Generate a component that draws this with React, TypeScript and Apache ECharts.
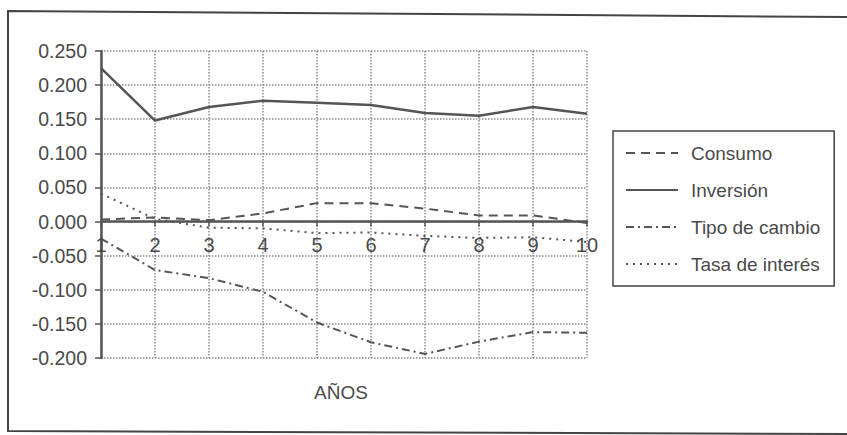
import React, { useEffect, useRef } from "react";
import * as echarts from "echarts";

const years = ["1", "2", "3", "4", "5", "6", "7", "8", "9", "10"];
const consumo = [0.003, 0.006, 0.002, 0.012, 0.027, 0.027, 0.019, 0.009, 0.009, -0.002];
const inversion = [0.225, 0.148, 0.168, 0.177, 0.174, 0.171, 0.159, 0.155, 0.168, 0.158];
const tipoCambio = [-0.025, -0.071, -0.083, -0.103, -0.148, -0.177, -0.194, -0.176, -0.162, -0.163];
const tasaInteres = [0.041, 0.004, -0.009, -0.010, -0.017, -0.016, -0.021, -0.024, -0.023, -0.030];
const yTicks = { min: -0.2, max: 0.25, interval: 0.05 };

const FONT = "'Liberation Sans', Arial, sans-serif";
const INK = "#4a4a4a";
const LINE = "#555555";

const GRID = { left: 101, right: 260, top: 51, bottom: 77 };
const H = 435;

export default function App() {
  const ref = useRef<HTMLDivElement>(null);
  useEffect(() => {
    if (!ref.current) return;
    const chart = echarts.init(ref.current, undefined, { renderer: "svg" });
    const plotH = H - GRID.top - GRID.bottom;
    const zeroY = GRID.top + (plotH * yTicks.max) / (yTicks.max - yTicks.min);
    const xOffset = -(H - GRID.bottom - zeroY);
    const lineCommon = { type: "line", showSymbol: false, symbol: "none", smooth: false };
    const frameAndTitle = [
      {
        type: "text",
        left: 314,
        top: 383,
        style: { text: "AÑOS", font: `19px ${FONT}`, fill: INK },
      },
      {
        type: "polyline",
        shape: { points: [[847, 17], [8, 11], [8, 431], [847, 434]] },
        style: { stroke: "#444", lineWidth: 2, fill: "none" },
      },
    ];
    chart.setOption({
      animation: false,
      backgroundColor: "#ffffff",
      textStyle: { fontFamily: FONT },
      grid: GRID,
      xAxis: {
        type: "category",
        data: years,
        boundaryGap: false,
        offset: xOffset,
        axisLine: { onZero: false, lineStyle: { color: LINE, width: 2.5 } },
        axisTick: { show: true, length: 5, lineStyle: { color: LINE, width: 1.5 } },
        axisLabel: { show: false },
        splitLine: { show: true, lineStyle: { type: "dotted", color: "#8a8a8a", width: 1.5 } },
      },
      yAxis: {
        type: "value",
        min: yTicks.min,
        max: yTicks.max,
        interval: yTicks.interval,
        axisLine: { show: true, lineStyle: { color: LINE, width: 2.5 } },
        axisTick: { show: true, length: 6, lineStyle: { color: LINE, width: 1.5 } },
        axisLabel: {
          color: INK,
          fontSize: 19.5,
          fontFamily: FONT,
          margin: 14,
          formatter: (v: number) => v.toFixed(3),
        },
        splitLine: { show: true, lineStyle: { type: "dotted", color: "#8a8a8a", width: 1.5 } },
      },
      legend: {
        orient: "vertical",
        left: 613,
        top: 131,
        padding: [10, 14, 10, 12],
        borderColor: "#444",
        borderWidth: 1.5,
        itemWidth: 52,
        itemHeight: 14,
        itemGap: 13,
        itemStyle: { opacity: 0 },
        textStyle: { color: INK, fontSize: 19, fontFamily: FONT, lineHeight: 24, padding: [0, 0, 0, 8] },
        data: ["Consumo", "Inversión", "Tipo de cambio", "Tasa de interés"],
      },
      graphic: frameAndTitle,
      series: [
        {
          ...lineCommon,
          name: "Consumo",
          data: consumo,
          lineStyle: { color: LINE, width: 2, type: [9, 6] },
          itemStyle: { color: LINE },
        },
        {
          ...lineCommon,
          name: "Inversión",
          data: inversion,
          lineStyle: { color: LINE, width: 2.5, type: "solid" },
          itemStyle: { color: LINE },
        },
        {
          ...lineCommon,
          name: "Tipo de cambio",
          data: tipoCambio,
          lineStyle: { color: LINE, width: 2, type: [8, 4, 2, 4] },
          itemStyle: { color: LINE },
        },
        {
          ...lineCommon,
          name: "Tasa de interés",
          data: tasaInteres,
          lineStyle: { color: LINE, width: 2, type: [2, 5] },
          itemStyle: { color: LINE },
        },
      ],
    });
    // Year tick labels just below the zero line, positioned through the chart's own scales
    const yearLabels = years.map((yr) => {
      const p = chart.convertToPixel({ gridIndex: 0 }, [yr, 0]) as number[];
      return {
        type: "text",
        x: p[0],
        y: p[1] + 13,
        z: 100,
        style: {
          text: yr,
          font: `20px ${FONT}`,
          fill: INK,
          align: "center",
          verticalAlign: "top",
        },
      };
    });
    chart.setOption({ graphic: [...frameAndTitle, ...yearLabels] }, { replaceMerge: ["graphic"] });
    return () => chart.dispose();
  }, []);
  return (
    <div
      ref={ref}
      style={{ position: "absolute", left: 0, top: 0, width: 847, height: 435 }}
    />
  );
}
